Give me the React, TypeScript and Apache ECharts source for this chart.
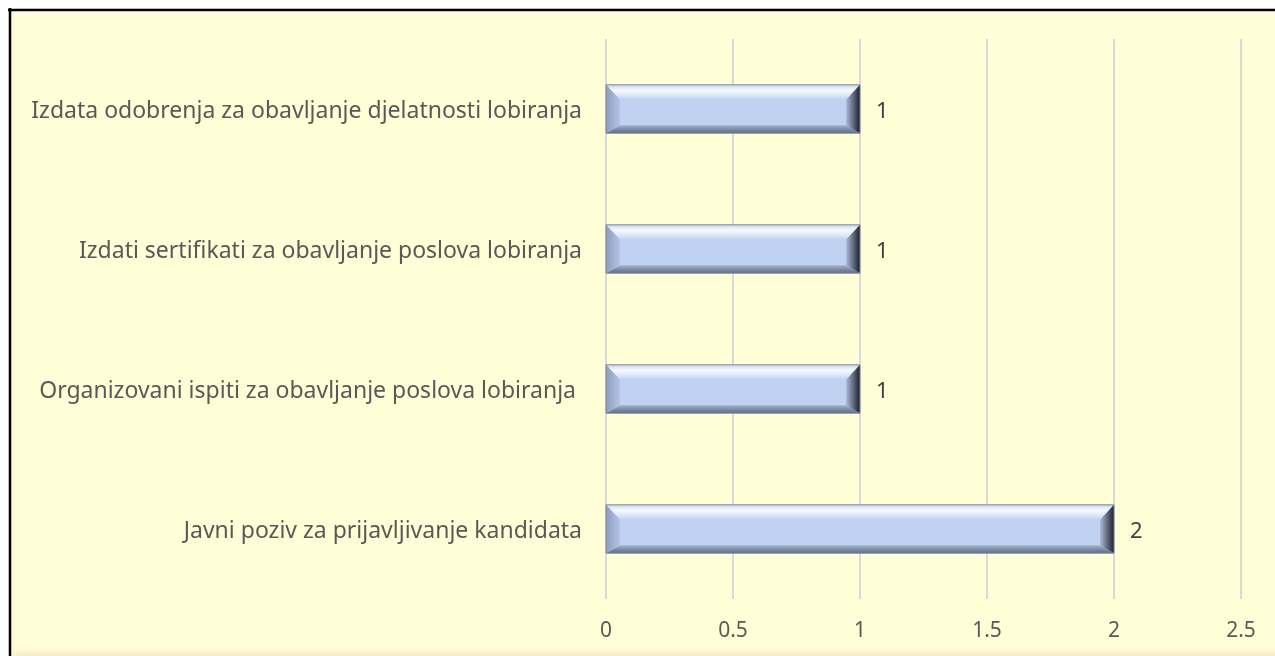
import React, { useEffect, useRef } from "react";
import * as echarts from "echarts";

const categories = [
  "Javni poziv za prijavljivanje kandidata",
  "Organizovani ispiti za obavljanje poslova lobiranja ",
  "Izdati sertifikati za obavljanje poslova lobiranja",
  "Izdata odobrenja za obavljanje djelatnosti lobiranja",
];
const values = [2, 1, 1, 1];
const xTicks = [0, 0.5, 1, 1.5, 2, 2.5];

const W = 1267;
const H = 648;
const FONT = "'Noto Sans', sans-serif";

export default function App() {
  const ref = useRef<HTMLDivElement>(null);
  useEffect(() => {
    if (!ref.current) return;
    const chart = echarts.init(ref.current, null, { renderer: "svg" });
    const lg = (x2: number, y2: number, stops: [number, string][]) =>
      new echarts.graphic.LinearGradient(0, 0, x2, y2, stops.map(([offset, color]) => ({ offset, color })));

    chart.setOption({
      animation: false,
      backgroundColor: "transparent",
      graphic: [
        { type: "rect", z: -10, shape: { x: 0, y: 0, width: W, height: H }, style: { fill: "#fffed6" }, silent: true },
        { type: "rect", z: -9, shape: { x: 2, y: 2, width: W, height: 10 }, style: { fill: lg(0, 1, [[0, "#ffffff"], [1, "rgba(255,254,214,0)"]]) }, silent: true },
        { type: "rect", z: -9, shape: { x: 2, y: H - 12, width: W, height: 12 }, style: { fill: lg(0, 1, [[0, "rgba(255,254,214,0)"], [1, "#f6e8c6"]]) }, silent: true },
        { type: "rect", z: -9, shape: { x: 2, y: 2, width: 8, height: H }, style: { fill: lg(1, 0, [[0, "#fbf6d2"], [1, "rgba(255,254,214,0)"]]) }, silent: true },
        { type: "line", z: -8, shape: { x1: 0, y1: 2, x2: W, y2: 2 }, style: { stroke: "#000", lineWidth: 2.5 }, silent: true },
        { type: "line", z: -8, shape: { x1: 2, y1: 0, x2: 2, y2: H }, style: { stroke: "#000", lineWidth: 2.5 }, silent: true },
      ],
      grid: { left: 598, right: 34, top: 31, bottom: 57, containLabel: false },
      xAxis: {
        type: "value",
        min: 0,
        max: 2.5,
        interval: 0.5,
        axisLine: { show: false },
        axisTick: { show: false },
        splitLine: { show: true, lineStyle: { color: "#d9d9d9", width: 2 } },
        axisLabel: {
          color: "#595959",
          fontSize: 21,
          fontFamily: FONT,
          margin: 19,
          formatter: (v: number) => (xTicks.includes(v) ? String(v) : ""),
        },
      },
      yAxis: {
        type: "category",
        data: categories,
        axisLine: { show: false },
        axisTick: { show: false },
        axisLabel: { color: "#595959", fontSize: 23, fontFamily: FONT, margin: 24 },
      },
      series: [
        {
          type: "custom",
          data: values.map((v, i) => [v, i]),
          encode: { x: 0, y: 1 },
          renderItem: (params: any, api: any) => {
            const v = api.value(0);
            const c = api.value(1);
            const p0 = api.coord([0, c]);
            const p1 = api.coord([v, c]);
            const band = api.size([0, 1])[1];
            const h = band * 0.345;
            const x0 = p0[0];
            const x1 = p1[0];
            const y0 = p0[1] - h / 2;
            const y1 = p0[1] + h / 2;
            const b = 14;
            const bt = 15;
            const bb = 8;
            return {
              type: "group",
              children: [
                { type: "rect", shape: { x: x0, y: y0, width: x1 - x0, height: h }, style: { fill: "#bfd2f2" } },
                {
                  type: "polygon",
                  shape: { points: [[x0, y0], [x1, y0], [x1 - b, y0 + bt], [x0 + b, y0 + bt]] },
                  style: { fill: lg(0, 1, [[0, "#c9d8f2"], [0.35, "#f6f9ff"], [0.6, "#e4edfc"], [1, "#bfd2f2"]]) },
                },
                {
                  type: "polygon",
                  shape: { points: [[x0, y1], [x1, y1], [x1 - b, y1 - bb], [x0 + b, y1 - bb]] },
                  style: { fill: lg(0, 1, [[0, "#a3b3cf"], [1, "#5f6a7f"]]) },
                },
                {
                  type: "polygon",
                  shape: { points: [[x0, y0], [x0 + b, y0 + bt], [x0 + b, y1 - bb], [x0, y1]] },
                  style: { fill: lg(1, 0, [[0, "#8d9cbc"], [1, "#b3c5e6"]]) },
                },
                {
                  type: "polygon",
                  shape: { points: [[x1, y0], [x1 - b, y0 + bt], [x1 - b, y1 - bb], [x1, y1]] },
                  style: { fill: lg(1, 0, [[0, "#aebcd8"], [0.55, "#5d6678"], [1, "#1a1e26"]]) },
                },
                {
                  type: "rect",
                  shape: { x: x0, y: y0, width: x1 - x0, height: h },
                  style: { fill: "none", stroke: "#7d889c", lineWidth: 1 },
                },
                {
                  type: "text",
                  style: {
                    text: String(v),
                    x: x1 + 16,
                    y: p0[1],
                    textVerticalAlign: "middle",
                    verticalAlign: "middle",
                    fill: "#404040",
                    fontSize: 22,
                    fontFamily: FONT,
                  },
                },
              ],
            };
          },
        },
      ],
    });
    return () => chart.dispose();
  }, []);
  return <div ref={ref} style={{ position: "fixed", left: 8, top: 8, width: W, height: H }} />;
}
